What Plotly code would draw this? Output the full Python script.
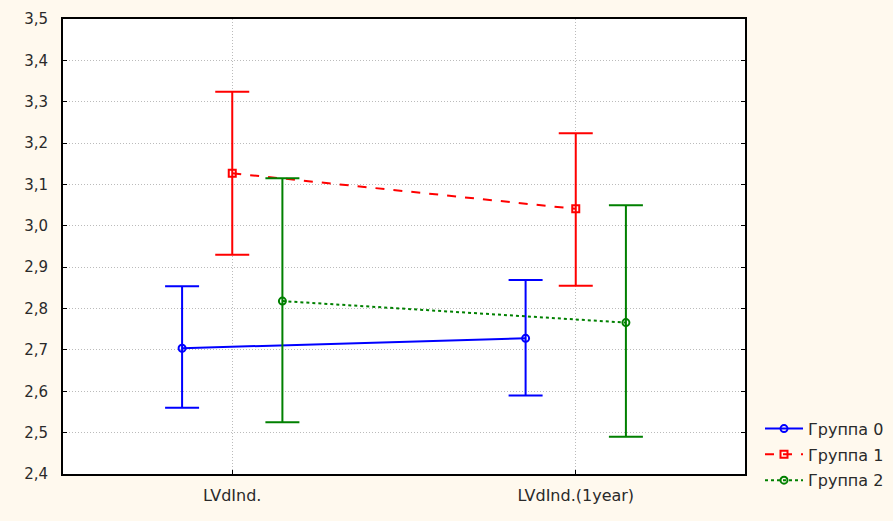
import numpy as np
import plotly.graph_objects as go

categories = ["LVdInd.", "LVdInd.(1year)"]
groups = ["Группа 0", "Группа 1", "Группа 2"]
means = [[2.704, 2.728], [3.127, 3.041], [2.818, 2.766]]
upper = [[2.854, 2.869], [3.324, 3.224], [3.115, 3.050]]
lower = [[2.560, 2.590], [2.930, 2.855], [2.525, 2.490]]
y_ticks = [2.4, 2.5, 2.6, 2.7, 2.8, 2.9, 3.0, 3.1, 3.2, 3.3, 3.4, 3.5]

colors = ["#0000FF", "#FF0000", "#008000"]
dashes = ["solid", "dash", "dot"]
symbols = ["circle-open", "square-open", "circle-open"]
offsets = [-0.146, 0.0, 0.146]

fig = go.Figure()
base = np.arange(len(categories))
for i, g in enumerate(groups):
    m = np.array(means[i])
    up = np.array(upper[i]) - m
    lo = m - np.array(lower[i])
    fig.add_trace(go.Scatter(
        x=base + offsets[i], y=m, name=g, mode="lines+markers", legendgroup=g,
        line=dict(color=colors[i], width=2, dash=dashes[i]),
        marker=dict(symbol=symbols[i], size=7, color=colors[i], line=dict(width=2, color=colors[i])),
        error_y=dict(type="data", symmetric=False, array=up, arrayminus=lo,
                     color=colors[i], thickness=2, width=17),
    ))

bg = "#FFF9EE"
txt = "#2a2a2a"
fig.update_layout(
    width=893, height=521,
    paper_bgcolor=bg, plot_bgcolor="white",
    margin=dict(l=63, r=148, t=19, b=47, autoexpand=False),
    separators=", ",
    font=dict(family="DejaVu Sans, Verdana, sans-serif", size=15, color=txt),
    showlegend=True,
    legend=dict(x=1.022, y=0.137, xanchor="left", yanchor="top",
                bgcolor="rgba(0,0,0,0)", font=dict(size=16, color=txt),
                tracegroupgap=2, itemwidth=38),
)
fig.update_xaxes(
    range=[-0.4927, 1.4927], tickmode="array", tickvals=list(base), ticktext=categories,
    tickfont=dict(size=16),
    showline=True, linecolor="black", linewidth=2, mirror=True,
    ticks="inside", ticklen=4, tickcolor="black",
    showgrid=True, gridcolor="#BBBBBB", griddash="1px,2px", gridwidth=1,
    zeroline=False, ticklabelstandoff=6, automargin=False,
)
fig.update_yaxes(
    range=[2.4, 3.5], tickmode="array", tickvals=y_ticks, tickformat=".1f",
    showline=True, linecolor="black", linewidth=2, mirror="ticks",
    ticks="inside", ticklen=4, tickcolor="black",
    showgrid=True, gridcolor="#BBBBBB", griddash="1px,2px", gridwidth=1,
    zeroline=False, ticklabelstandoff=10, automargin=False,
)
fig.write_html("out.html", config={"displayModeBar": False},
               post_script="document.body.style.margin='0';document.body.style.background='%s';" % bg)
